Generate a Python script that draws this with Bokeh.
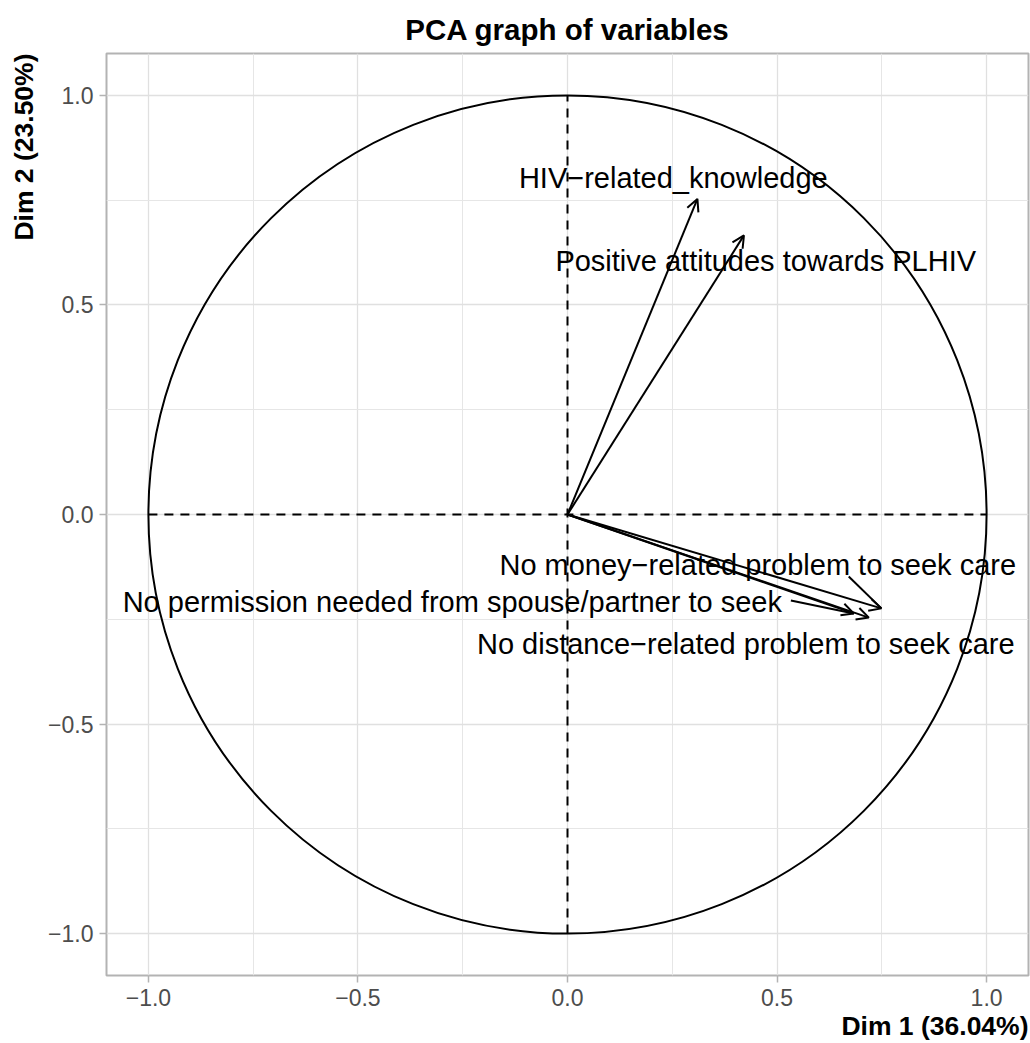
from bokeh.plotting import figure
from bokeh.models import Range1d, FixedTicker, Arrow, OpenHead, ColumnDataSource, Title
from bokeh.core.properties import value
from bokeh.embed import file_html
from bokeh.resources import INLINE

# ---- data ----
variables = [
    "HIV\u2212related_knowledge",
    "Positive attitudes towards PLHIV",
    "No money\u2212related problem to seek care",
    "No permission needed from spouse/partner to seek",
    "No distance\u2212related problem to seek care",
]
dim1 = [0.310, 0.421, 0.749, 0.683, 0.719]
dim2 = [0.753, 0.666, -0.224, -0.236, -0.246]

# label anchor positions (repelled labels), centre x / baseline y
label_x = [0.2524, 0.473, 0.454, -0.2749, 0.4254]
label_y = [0.802, 0.604, -0.121, -0.208, -0.308]

# repel segments: label index and segment start
repel_idx = [2, 3]
repel_x = [0.671, 0.533]
repel_y = [-0.148, -0.205]

tick_values = [-1.0, -0.5, 0.0, 0.5, 1.0]
tick_labels = ["\u22121.0", "\u22120.5", "0.0", "0.5", "1.0"]
minor_tick_values = [-0.75, -0.25, 0.25, 0.75]

title = "PCA graph of variables"
xlab = "Dim 1 (36.04%)"
ylab = "Dim 2 (23.50%)"

FONT = "Liberation Sans"

p = figure(width=1030, height=1043, x_range=Range1d(-1.1, 1.1), y_range=Range1d(-1.1, 1.1),
           output_backend="svg", toolbar_location=None,
           min_border_left=106, min_border_right=2, min_border_top=53, min_border_bottom=68)
p.outline_line_color = "#b3b3b3"
p.outline_line_width = 2
p.background_fill_color = "white"
p.border_fill_color = "white"

p.title.text = title
p.title.align = "center"
p.title.text_font = FONT
p.title.text_font_size = "29.5px"
p.title.text_font_style = "bold"
p.title.text_color = "black"
p.title.standoff = 15

for ax in (p.xaxis[0], p.yaxis[0]):
    ax.ticker = FixedTicker(ticks=tick_values, minor_ticks=minor_tick_values)
    ax.major_label_overrides = dict(zip(tick_values, tick_labels))
    ax.axis_line_color = None
    ax.major_tick_line_color = "#b3b3b3"
    ax.major_tick_line_width = 1.5
    ax.major_tick_out = 7
    ax.major_tick_in = 0
    ax.minor_tick_line_color = None
    ax.major_label_text_font = FONT
    ax.major_label_text_font_size = "23px"
    ax.major_label_text_color = "#4d4d4d"
    ax.major_label_standoff = 6

for g in (p.xgrid[0], p.ygrid[0]):
    g.grid_line_color = "#e0e0e0"
    g.grid_line_width = 1.3
    g.minor_grid_line_color = "#e6e6e6"
    g.minor_grid_line_width = 1.0

# unit circle
p.ellipse(x=0, y=0, width=2, height=2, fill_color=None, line_color="black", line_width=2)
# dashed axes
p.segment(x0=[-1, 0], y0=[0, -1], x1=[1, 0], y1=[0, 1], line_color="black",
          line_width=2, line_dash="9 7")

# arrows
src = ColumnDataSource(dict(x0=[0.0] * len(dim1), y0=[0.0] * len(dim2), x1=dim1, y1=dim2))
p.add_layout(Arrow(end=OpenHead(size=12, line_width=2, line_color="black"),
                   x_start="x0", y_start="y0", x_end="x1", y_end="y1", source=src,
                   line_width=2, line_color="black"))

# repel segments
p.segment(x0=repel_x, y0=repel_y,
          x1=[dim1[i] for i in repel_idx], y1=[dim2[i] for i in repel_idx],
          line_color="black", line_width=2)

# labels
p.text(x=label_x, y=label_y, text=variables, text_align="center", text_baseline="alphabetic",
       text_font=value(FONT), text_font_size=value("29px"), text_color="black")

# axis titles, aligned to the panel end
p.add_layout(Title(text=xlab, align="right", text_font=FONT, text_font_size="26.5px",
                   text_font_style="bold", text_color="black", standoff=0), "below")
p.add_layout(Title(text=ylab, align="right", text_font=FONT, text_font_size="26.5px",
                   text_font_style="bold", text_color="black", standoff=13), "left")

open("out.html", "w").write(file_html(p, INLINE))
